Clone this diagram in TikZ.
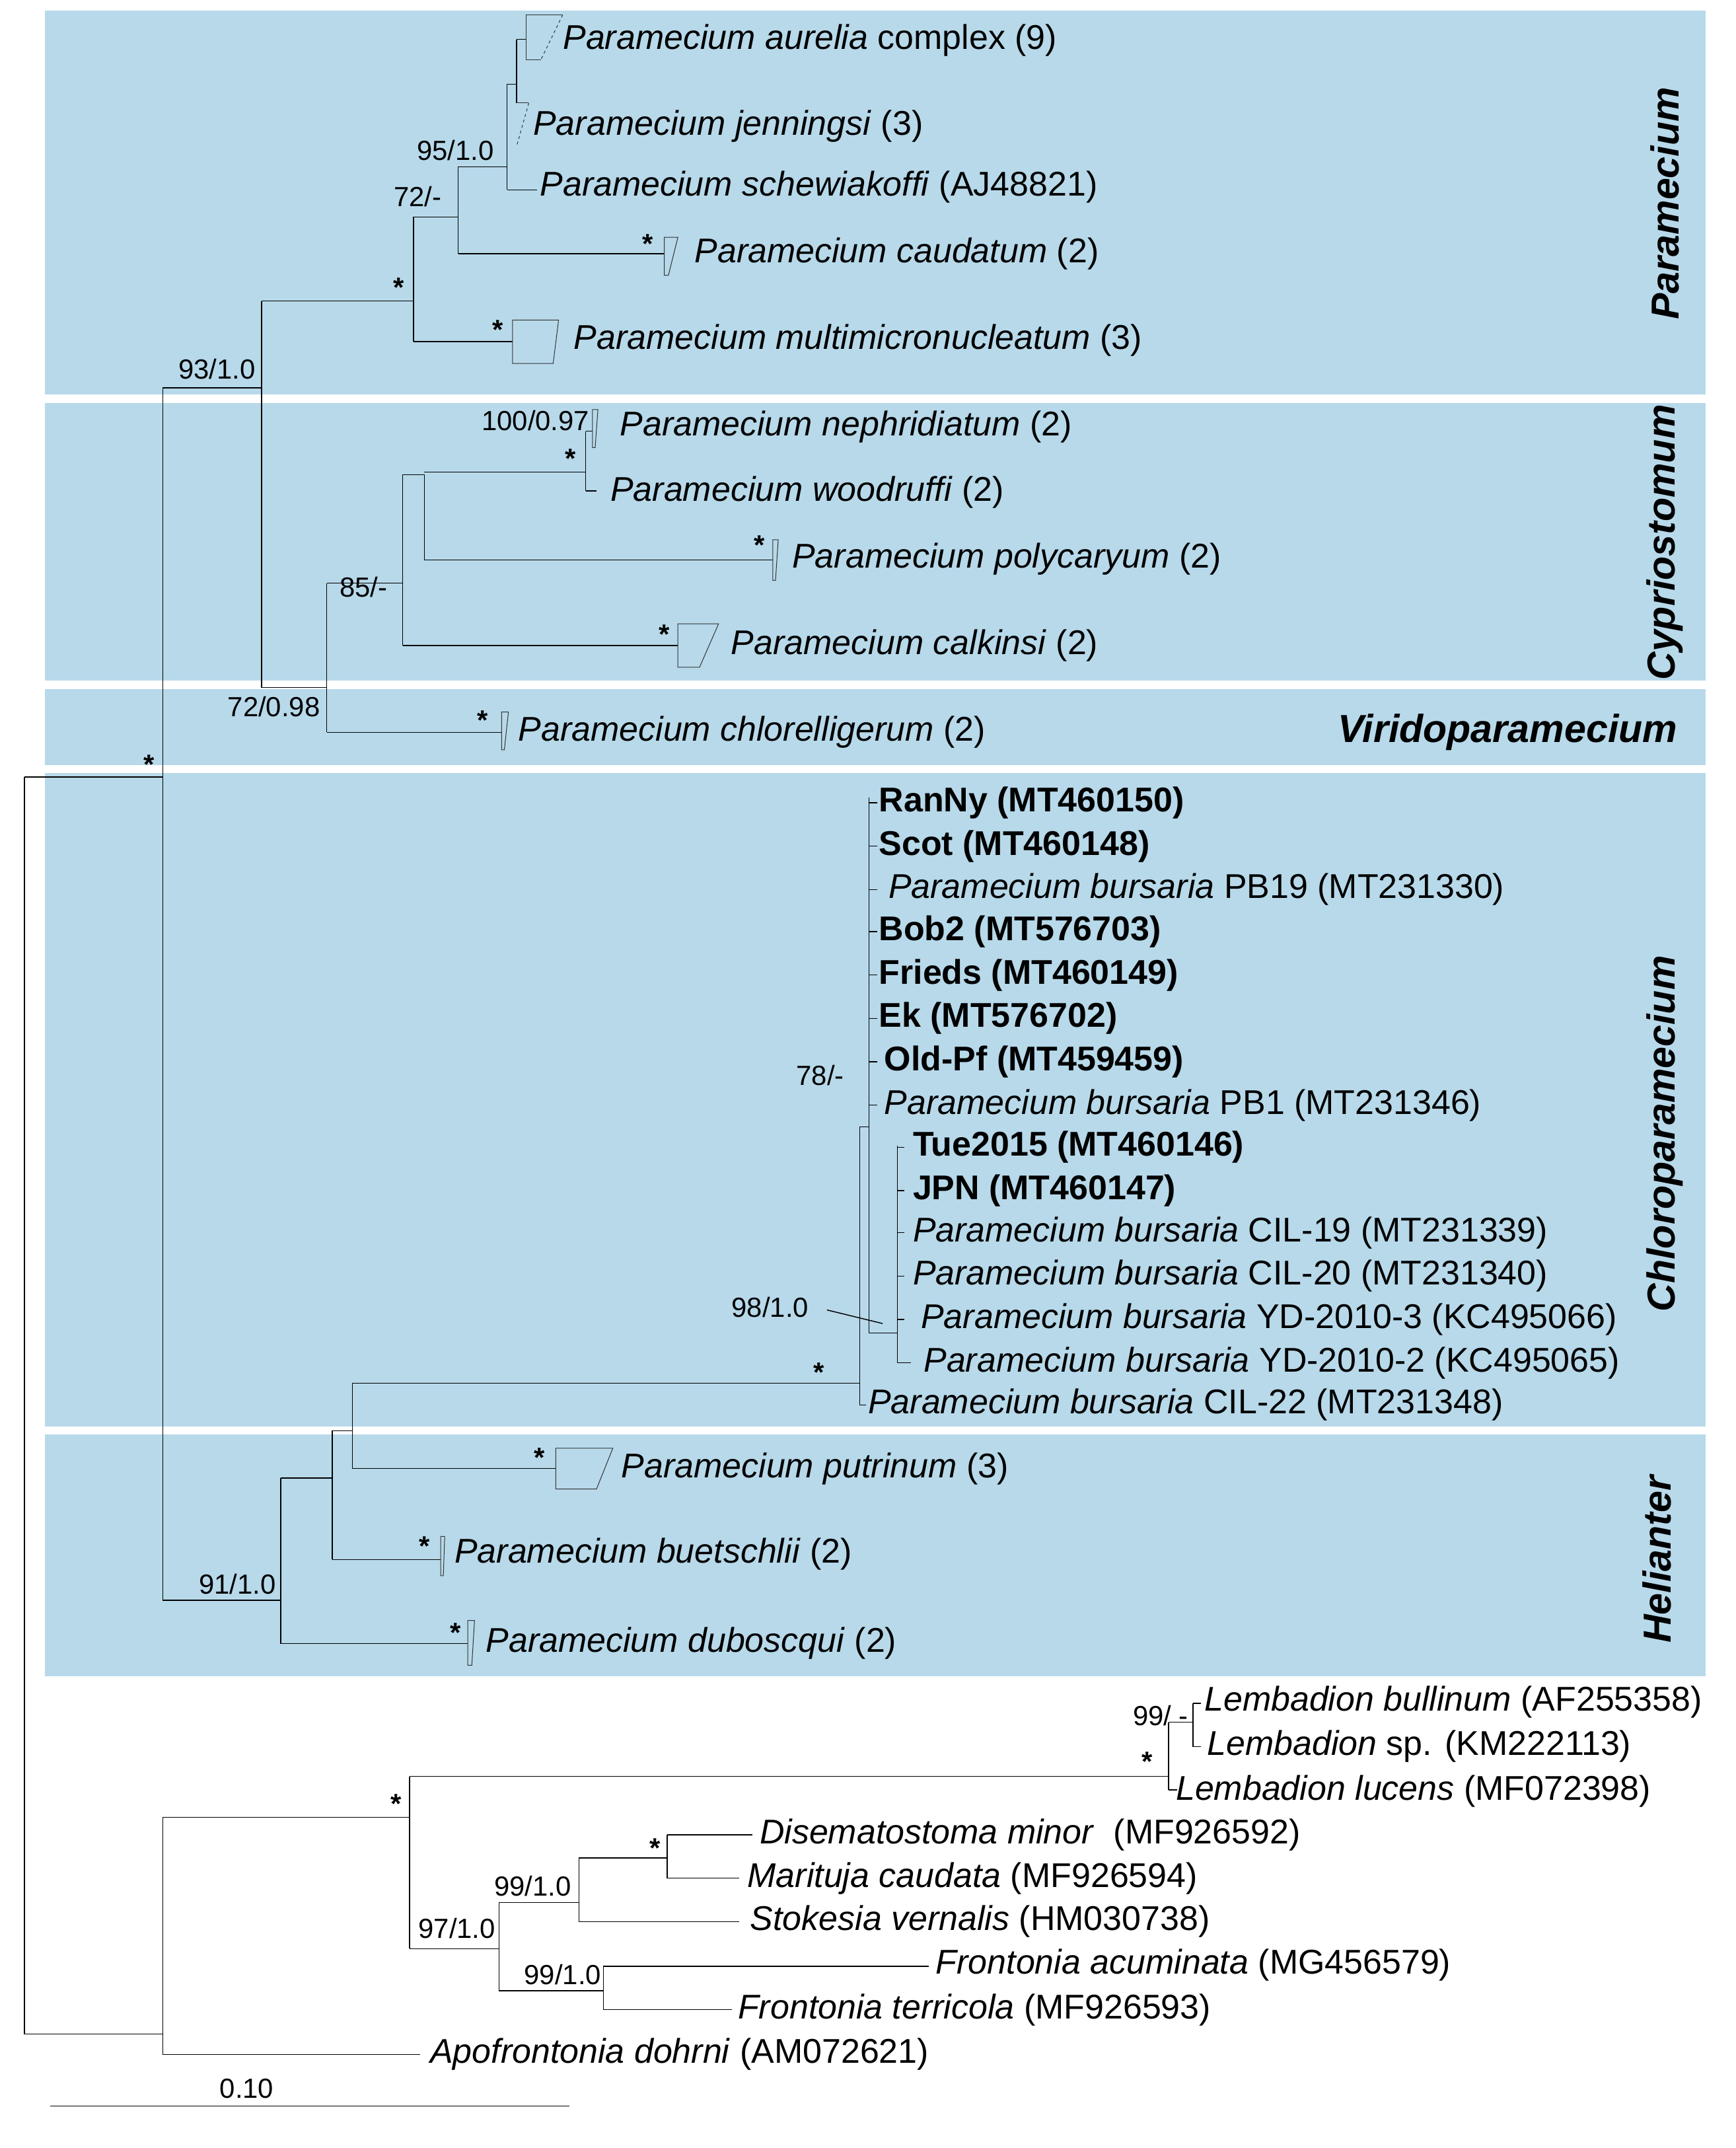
\documentclass[tikz,border=0pt]{standalone}
\usepackage{fontspec}
\setmainfont{Liberation Sans}
\begin{document}
\begin{tikzpicture}[x=0.05cm,y=-0.05cm,line width=1pt,
  leaf/.style={anchor=west,inner sep=0pt,font=\fontsize{36}{40}\selectfont},
  sup/.style={inner sep=0pt,font=\fontsize{29}{33}\selectfont},
  clade/.style={inner sep=0pt,font=\fontsize{41}{46}\selectfont\bfseries\itshape},
  box/.style={fill=boxblue,draw=none},
  tri/.style={draw=black!80,line width=0.7pt}]
\definecolor{boxblue}{HTML}{B7D9EA}
\useasboundingbox (0,0) rectangle (1280,1584);
\fill[white] (0,0) rectangle (1280,1584);
% boxes
\fill[box] (33,8) rectangle (1258,291);
\fill[box] (33,297) rectangle (1258,502);
\fill[box] (33,508) rectangle (1258,564);
\fill[box] (33,570) rectangle (1258,1052);
\fill[box] (33,1058) rectangle (1258,1236);
% clade names
\node[clade,rotate=90] (cP) at (1228,150) {Paramecium};
\node[clade,rotate=90] (cC) at (1228,400) {Cypriostomum};
\node[clade] (cV) at (1112,540) {Viridoparamecium};
\node[clade,rotate=90] (cCh) at (1228,836) {Chloroparamecium};
\node[clade,rotate=90] (cH) at (1222,1150) {Helianter};
% root
\draw (18,573)--(18,1500);
\draw (18,573)--(120,573);
\draw (18,1500)--(120,1500);
\draw (120,286)--(120,1180);
\draw (120,286)--(193,286);
\draw (193,222)--(193,507);
% Paramecium
\draw (193,222)--(305,222);
\draw (305,160)--(305,252);
\draw (305,160)--(338,160);
\draw (338,123)--(338,187);
\draw (338,123)--(374,123);
\draw (374,62)--(374,140);
\draw (374,140)--(396,140);
\draw (374,62)--(381,62);
\draw (381,29)--(381,76);
\draw (381,29)--(388,29);
\draw[tri] (388,11)--(415,11); \draw[tri,dashed] (415,11)--(399,44); \draw[tri] (399,44)--(388,44)--(388,11);
\draw[tri] (381,76)--(390,76); \draw[tri,dashed] (390,76)--(381,108);
\draw (338,187)--(490,187);
\draw[tri] (490,175)--(500,175)--(493,203)--(490,203)--cycle;
\draw (305,252)--(378,252);
\draw[tri] (378,236)--(412,236)--(408,268)--(378,268)--cycle;
% Cypriostomum
\draw (193,507)--(241,507);
\draw (241,430)--(241,540);
\draw (241,540)--(370,540);
\draw[tri] (370,525)--(375,525)--(372,553)--(370,553)--cycle;
\draw (241,430)--(297,430);
\draw (297,350)--(297,476);
\draw (297,476)--(500,476);
\draw[tri] (500,460)--(530,460)--(516,492)--(500,492)--cycle;
\draw (297,350)--(313,350);
\draw (313,350)--(313,413);
\draw (313,413)--(570,413);
\draw[tri] (570,398)--(574,398)--(572,428)--(570,428)--cycle;
\draw (313,348)--(432,348);
\draw (432,318)--(432,362);
\draw (432,362)--(440,362);
\draw (432,318)--(437,318);
\draw[tri] (437,302)--(441,302)--(439,330)--(437,330)--cycle;
% Helianter / Chloroparamecium
\draw (120,1180)--(207,1180);
\draw (207,1090)--(207,1212);
\draw (207,1212)--(345,1212);
\draw[tri] (345,1195)--(350,1195)--(348,1228)--(345,1228)--cycle;
\draw (207,1090)--(245,1090);
\draw (245,1055)--(245,1150);
\draw (245,1150)--(325,1150);
\draw[tri] (325,1133)--(328,1133)--(327,1162)--(325,1162)--cycle;
\draw (245,1055)--(260,1055);
\draw (260,1020)--(260,1083);
\draw (260,1083)--(410,1083);
\draw[tri] (410,1068)--(452,1068)--(440,1098)--(410,1098)--cycle;
\draw (260,1020)--(634,1020);
\draw (634,831)--(634,1036);
\draw (634,1036)--(639,1036);
\draw (634,831)--(641,831);
\draw (641,588)--(641,983);
\foreach \y in {592,624,656,687,719,751,783,815} \draw (641,\y)--(647,\y);
\draw (641,983)--(662,983);
\draw (662,845)--(662,1005);
\foreach \y in {846,878,909,941,973} \draw (662,\y)--(667,\y);
\draw (662,1005)--(672,1005);
\draw (610,966)--(651,976);
% outgroup
\draw (120,1340)--(120,1515);
\draw (120,1515)--(310,1515);
\draw (120,1340)--(302,1340);
\draw (302,1310)--(302,1437);
\draw (302,1310)--(862,1310);
\draw (862,1270)--(862,1320);
\draw (862,1320)--(868,1320);
\draw (862,1270)--(880,1270);
\draw (880,1256)--(880,1288);
\draw (880,1256)--(886,1256);
\draw (880,1288)--(886,1288);
\draw (302,1437)--(368,1437);
\draw (368,1403)--(368,1468);
\draw (368,1403)--(427,1403);
\draw (427,1370)--(427,1417);
\draw (427,1417)--(545,1417);
\draw (427,1370)--(492,1370);
\draw (492,1353)--(492,1385);
\draw (492,1353)--(555,1353);
\draw (492,1385)--(545,1385);
\draw (368,1468)--(445,1468);
\draw (445,1450)--(445,1482);
\draw (445,1450)--(685,1450);
\draw (445,1482)--(540,1482);
% scale bar
\draw (37,1553)--(420,1553);
\node[sup] (sb) at (182,1540) {0.10};
% support values
\node[sup] (s1) at (160,272) {93/1.0};
\node[sup] (s2) at (336,111) {95/1.0};
\node[sup] (s3) at (308,145) {72/-};
\node[sup] (s4) at (294,212) {\textbf{*}};
\node[sup] (s5) at (478,180) {\textbf{*}};
\node[sup] (s6) at (367,243) {\textbf{*}};
\node[sup] (s7) at (395,310) {100/0.97};
\node[sup] (s8) at (421,338) {\textbf{*}};
\node[sup] (s9) at (560,402) {\textbf{*}};
\node[sup] (s10) at (490,468) {\textbf{*}};
\node[sup] (s11) at (268,433) {85/-};
\node[sup] (s12) at (202,521) {72/0.98};
\node[sup] (s13) at (356,531) {\textbf{*}};
\node[sup] (s14) at (110,564) {\textbf{*}};
\node[sup] (s15) at (605,793) {78/-};
\node[sup] (s16) at (568,964) {98/1.0};
\node[sup] (s17) at (604,1012) {\textbf{*}};
\node[sup] (s18) at (398,1075) {\textbf{*}};
\node[sup] (s19) at (313,1140) {\textbf{*}};
\node[sup] (s20) at (336,1204) {\textbf{*}};
\node[sup] (s21) at (175,1168) {91/1.0};
\node[sup] (s22) at (856,1265) {99/ -};
\node[sup] (s23) at (846,1299) {\textbf{*}};
\node[sup] (s24) at (292,1330) {\textbf{*}};
\node[sup] (s25) at (483,1363) {\textbf{*}};
\node[sup] (s26) at (393,1391) {99/1.0};
\node[sup] (s27) at (337,1422) {97/1.0};
\node[sup] (s28) at (415,1456) {99/1.0};
% leaves
\node[leaf] (l1) at (415,30) {\textit{Paramecium aurelia} complex (9)};
\node[leaf] (l2) at (393,93) {\textit{Paramecium jenningsi} (3)};
\node[leaf] (l3) at (398,138) {\textit{Paramecium schewiakoffi} (AJ48821)};
\node[leaf] (l4) at (512,187) {\textit{Paramecium caudatum} (2)};
\node[leaf] (l5) at (423,251) {\textit{Paramecium multimicronucleatum} (3)};
\node[leaf] (l6) at (457,315) {\textit{Paramecium nephridiatum} (2)};
\node[leaf] (l7) at (450,363) {\textit{Paramecium woodruffi} (2)};
\node[leaf] (l8) at (584,412) {\textit{Paramecium polycaryum} (2)};
\node[leaf] (l9) at (539,476) {\textit{Paramecium calkinsi} (2)};
\node[leaf] (l10) at (382,540) {\textit{Paramecium chlorelligerum} (2)};
\node[leaf] (l11) at (648,592) {\textbf{RanNy (MT460150)}};
\node[leaf] (l12) at (648,624) {\textbf{Scot (MT460148)}};
\node[leaf] (l13) at (655,656) {\textit{Paramecium bursaria} PB19 (MT231330)};
\node[leaf] (l14) at (648,687) {\textbf{Bob2 (MT576703)}};
\node[leaf] (l15) at (648,719) {\textbf{Frieds (MT460149)}};
\node[leaf] (l16) at (648,751) {\textbf{Ek (MT576702)}};
\node[leaf] (l17) at (652,783) {\textbf{Old-Pf (MT459459)}};
\node[leaf] (l18) at (652,815) {\textit{Paramecium bursaria} PB1 (MT231346)};
\node[leaf] (l19) at (673,846) {\textbf{Tue2015 (MT460146)}};
\node[leaf] (l20) at (673,878) {\textbf{JPN (MT460147)}};
\node[leaf] (l21) at (673,909) {\textit{Paramecium bursaria} CIL-19 (MT231339)};
\node[leaf] (l22) at (673,941) {\textit{Paramecium bursaria} CIL-20 (MT231340)};
\node[leaf] (l23) at (679,973) {\textit{Paramecium bursaria} YD-2010-3 (KC495066)};
\node[leaf] (l24) at (681,1005) {\textit{Paramecium bursaria} YD-2010-2 (KC495065)};
\node[leaf] (l25) at (640,1036) {\textit{Paramecium bursaria} CIL-22 (MT231348)};
\node[leaf] (l26) at (458,1083) {\textit{Paramecium putrinum} (3)};
\node[leaf] (l27) at (335,1146) {\textit{Paramecium buetschlii} (2)};
\node[leaf] (l28) at (358,1212) {\textit{Paramecium duboscqui} (2)};
\node[leaf] (l29) at (888,1255) {\textit{Lembadion bullinum} (AF255358)};
\node[leaf] (l30) at (890,1288) {\textit{Lembadion} sp. (KM222113)};
\node[leaf] (l31) at (867,1321) {\textit{Lembadion lucens} (MF072398)};
\node[leaf] (l32) at (560,1353) {\textit{Disematostoma minor}\ \ (MF926592)};
\node[leaf] (l33) at (551,1385) {\textit{Marituja caudata} (MF926594)};
\node[leaf] (l34) at (553,1417) {\textit{Stokesia vernalis} (HM030738)};
\node[leaf] (l35) at (690,1449) {\textit{Frontonia acuminata} (MG456579)};
\node[leaf] (l36) at (544,1482) {\textit{Frontonia terricola} (MF926593)};
\node[leaf] (l37) at (317,1515) {\textit{Apofrontonia dohrni} (AM072621)};
\end{tikzpicture}
\end{document}
